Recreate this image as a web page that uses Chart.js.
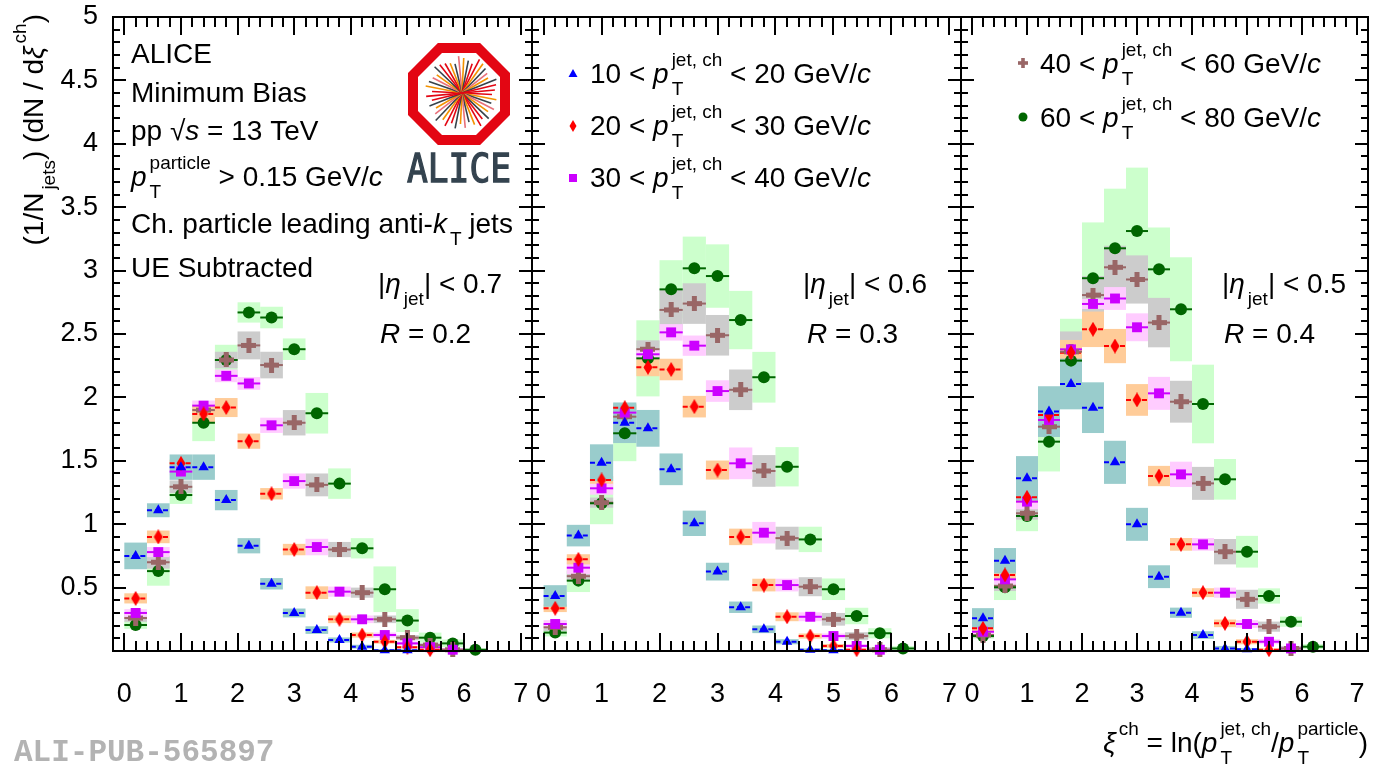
<!DOCTYPE html>
<html>
<head>
<meta charset="utf-8">
<title>xi ch distributions</title>
<script src="https://cdn.jsdelivr.net/npm/chart.js@4.4.1/dist/chart.umd.min.js"></script>
<style>
  body { margin: 0; background: #fff; }
  #wrap { position: relative; width: 1376px; height: 766px; overflow: hidden; }
  #wrap canvas { position: absolute; top: 0; }
</style>
</head>
<body>
<div id="wrap">
  <canvas id="panel1" width="534" height="766" style="left:0px"></canvas>
  <canvas id="panel2" width="433" height="766" style="left:530px"></canvas>
  <canvas id="panel3" width="417" height="766" style="left:959px"></canvas>
</div>
<script>
// bin centres in xi, shared ticks
const xiBins = [0.2, 0.6, 1.0, 1.4, 1.8, 2.2, 2.6, 3.0, 3.4, 3.8, 4.2, 4.6, 5.0, 5.4, 5.8, 6.2];
const binHalfWidth = 0.2;
const xTicks = [0, 1, 2, 3, 4, 5, 6, 7];
const yTicks = [0.5, 1, 1.5, 2, 2.5, 3, 3.5, 4, 4.5, 5];
const ptLow = [10, 20, 30, 40, 60];
const ptHigh = [20, 30, 40, 60, 80];
const jetR = ['0.2', '0.3', '0.4'];
const etaCut = ['0.7', '0.6', '0.5'];

// R = 0.2
const r02_pt10 = [0.75, 1.11, 1.45, 1.45, 1.19, 0.83, 0.53, 0.30, 0.165, 0.087, 0.034, 0.005, 0.005, null, null, null];
const r02_pt10_sys = [0.105, 0.055, 0.10, 0.10, 0.08, 0.06, 0.045, 0.035, 0.03, 0.02, 0.015, 0.01, 0.01, null, null, null];
const r02_pt20 = [0.415, 0.90, 1.48, 1.87, 1.92, 1.655, 1.24, 0.80, 0.46, 0.25, 0.126, 0.073, 0.03, 0.01, null, null];
const r02_pt20_sys = [0.04, 0.05, 0.03, 0.07, 0.075, 0.06, 0.045, 0.045, 0.05, 0.03, 0.02, 0.015, 0.01, 0.01, null, null];
const r02_pt30 = [0.30, 0.78, 1.415, 1.935, 2.17, 2.11, 1.78, 1.34, 0.82, 0.468, 0.25, 0.126, 0.06, 0.03, 0.01, null];
const r02_pt30_sys = [0.03, 0.04, 0.03, 0.04, 0.05, 0.05, 0.06, 0.06, 0.065, 0.04, 0.03, 0.02, 0.015, 0.01, 0.01, null];
const r02_pt40 = [0.26, 0.70, 1.295, 1.90, 2.295, 2.41, 2.255, 1.80, 1.31, 0.80, 0.46, 0.25, 0.105, 0.047, 0.01, null];
const r02_pt40_sys = [0.03, 0.05, 0.05, 0.05, 0.065, 0.11, 0.105, 0.10, 0.09, 0.06, 0.04, 0.03, 0.02, 0.015, 0.01, null];
const r02_pt60 = [0.205, 0.63, 1.23, 1.80, 2.295, 2.67, 2.63, 2.38, 1.875, 1.32, 0.81, 0.487, 0.24, 0.105, 0.06, 0.01];
const r02_pt60_sys = [0.03, 0.115, 0.07, 0.145, 0.12, 0.08, 0.085, 0.085, 0.16, 0.12, 0.08, 0.18, 0.09, 0.04, 0.03, 0.01];

// R = 0.3
const r03_pt10 = [0.434, 0.91, 1.485, 1.80, 1.756, 1.433, 1.007, 0.626, 0.345, 0.171, 0.073, 0.01, 0.005, null, null, null];
const r03_pt10_sys = [0.085, 0.085, 0.145, 0.16, 0.145, 0.125, 0.10, 0.07, 0.045, 0.03, 0.02, 0.01, 0.01, null, null, null];
const r03_pt20 = [0.337, 0.723, 1.349, 1.919, 2.237, 2.22, 1.927, 1.427, 0.90, 0.52, 0.27, 0.118, 0.04, 0.01, null, null];
const r03_pt20_sys = [0.03, 0.04, 0.03, 0.03, 0.07, 0.085, 0.085, 0.075, 0.065, 0.05, 0.035, 0.02, 0.015, 0.01, null, null];
const r03_pt30 = [0.213, 0.657, 1.283, 1.88, 2.34, 2.513, 2.408, 2.05, 1.48, 0.933, 0.52, 0.27, 0.118, 0.04, 0.01, null];
const r03_pt30_sys = [0.03, 0.05, 0.05, 0.04, 0.04, 0.065, 0.08, 0.085, 0.125, 0.085, 0.05, 0.035, 0.02, 0.015, 0.01, null];
const r03_pt40 = [0.187, 0.59, 1.17, 1.848, 2.38, 2.69, 2.74, 2.49, 2.06, 1.42, 0.89, 0.507, 0.25, 0.118, 0.01, null];
const r03_pt40_sys = [0.03, 0.04, 0.04, 0.05, 0.07, 0.16, 0.16, 0.16, 0.16, 0.125, 0.09, 0.075, 0.05, 0.03, 0.02, null];
const r03_pt60 = [0.145, 0.555, 1.165, 1.717, 2.308, 2.852, 3.018, 2.957, 2.61, 2.159, 1.453, 0.88, 0.487, 0.276, 0.14, 0.02];
const r03_pt60_sys = [0.03, 0.09, 0.165, 0.22, 0.30, 0.23, 0.25, 0.25, 0.23, 0.20, 0.155, 0.10, 0.085, 0.065, 0.04, 0.02];

// R = 0.4
const r04_pt10 = [0.258, 0.712, 1.362, 1.888, 2.106, 1.919, 1.488, 0.999, 0.586, 0.302, 0.126, 0.02, 0.013, null, null, null];
const r04_pt10_sys = [0.08, 0.10, 0.175, 0.20, 0.20, 0.20, 0.17, 0.13, 0.09, 0.04, 0.03, 0.02, 0.01, null, null, null];
const r04_pt20 = [0.179, 0.60, 1.212, 1.861, 2.353, 2.537, 2.405, 1.98, 1.38, 0.841, 0.46, 0.218, 0.073, 0.01, null, null];
const r04_pt20_sys = [0.03, 0.04, 0.04, 0.04, 0.10, 0.14, 0.135, 0.125, 0.08, 0.05, 0.035, 0.03, 0.02, 0.01, null, null];
const r04_pt30 = [0.152, 0.565, 1.178, 1.822, 2.379, 2.737, 2.78, 2.553, 2.032, 1.393, 0.841, 0.46, 0.213, 0.073, 0.02, null];
const r04_pt30_sys = [0.02, 0.04, 0.06, 0.05, 0.04, 0.04, 0.09, 0.11, 0.13, 0.10, 0.05, 0.04, 0.03, 0.02, 0.01, null];
const r04_pt40 = [0.126, 0.513, 1.086, 1.769, 2.36, 2.807, 3.026, 2.93, 2.59, 1.966, 1.322, 0.783, 0.408, 0.192, 0.02, null];
const r04_pt40_sys = [0.02, 0.04, 0.05, 0.05, 0.16, 0.15, 0.17, 0.19, 0.195, 0.165, 0.13, 0.10, 0.075, 0.04, 0.02, null];
const r04_pt60 = [0.118, 0.502, 1.065, 1.651, 2.29, 2.94, 3.176, 3.312, 3.01, 2.695, 1.948, 1.354, 0.783, 0.434, 0.231, 0.034];
const r04_pt60_sys = [0.02, 0.10, 0.12, 0.235, 0.33, 0.44, 0.47, 0.50, 0.33, 0.41, 0.31, 0.16, 0.125, 0.06, 0.04, 0.02];

const panelValues = [
  [r02_pt10, r02_pt20, r02_pt30, r02_pt40, r02_pt60],
  [r03_pt10, r03_pt20, r03_pt30, r03_pt40, r03_pt60],
  [r04_pt10, r04_pt20, r04_pt30, r04_pt40, r04_pt60]
];
const panelSys = [
  [r02_pt10_sys, r02_pt20_sys, r02_pt30_sys, r02_pt40_sys, r02_pt60_sys],
  [r03_pt10_sys, r03_pt20_sys, r03_pt30_sys, r03_pt40_sys, r03_pt60_sys],
  [r04_pt10_sys, r04_pt20_sys, r04_pt30_sys, r04_pt40_sys, r04_pt60_sys]
];

const markerColors = ['#0000ff', '#ff0000', '#cc00ff', '#996666', '#006600'];
const boxColors = ['#99cccc', '#ffcc99', '#ffccff', '#cccccc', '#ccffcc'];
const dashedBars = [true, true, false, false, false];

const FONT = '"Liberation Sans", Arial, Helvetica, sans-serif';
function fontStr(size, italic) { return (italic ? 'italic ' : '') + size + 'px ' + FONT; }

// marker images for the shapes chart.js has no filled version of
function diamondImg(color) {
  const c = document.createElement('canvas');
  c.width = 10; c.height = 15;
  const g = c.getContext('2d');
  g.fillStyle = color;
  g.beginPath(); g.moveTo(5, 0); g.lineTo(9.5, 7.5); g.lineTo(5, 15); g.lineTo(0.5, 7.5); g.closePath(); g.fill();
  return c;
}
function crossImg(color) {
  const c = document.createElement('canvas');
  c.width = 15; c.height = 15;
  const g = c.getContext('2d');
  g.fillStyle = color;
  g.fillRect(5, 0, 5, 15); g.fillRect(0, 5, 15, 5);
  return c;
}
const pointStyles = ['triangle', diamondImg(markerColors[1]), 'rect', crossImg(markerColors[3]), 'circle'];
const pointRadii = [6, 7, 7, 7, 6];

// rich text: N normal, I italic, SUP/SUB small, ST stacked sup+sub
const N = t => ({t: t});
const I = t => ({t: t, it: true});
const SUP = t => ({sup: t});
const SUB = t => ({sub: t});
const ST = (sup, sub) => ({sup: sup, sub: sub});

function drawRich(ctx, parts, x, y, size, align) {
  const small = Math.round(size * 0.68);
  const items = [];
  let w = 0;
  parts.forEach(function (p) {
    if (p.t !== undefined) {
      const f = fontStr(size, p.it);
      ctx.font = f;
      items.push({text: p.t, font: f, dx: w, dy: 0});
      w += ctx.measureText(p.t).width;
    } else {
      const f = fontStr(small, false);
      ctx.font = f;
      const gap = 3;
      let ww = 0;
      if (p.sup !== undefined) {
        items.push({text: p.sup, font: f, dx: w + gap, dy: -0.62 * size});
        ww = Math.max(ww, ctx.measureText(p.sup).width);
      }
      if (p.sub !== undefined) {
        items.push({text: p.sub, font: f, dx: w + gap, dy: 0.42 * size});
        ww = Math.max(ww, ctx.measureText(p.sub).width);
      }
      w += ww + gap;
    }
  });
  const x0 = align === 'right' ? x - w : x;
  ctx.save();
  ctx.fillStyle = '#000';
  ctx.textAlign = 'left';
  ctx.textBaseline = 'alphabetic';
  items.forEach(function (it) { ctx.font = it.font; ctx.fillText(it.text, x0 + it.dx, y + it.dy); });
  ctx.restore();
}

function drawMarker(ctx, s, x, y) {
  ctx.save();
  ctx.fillStyle = markerColors[s];
  ctx.beginPath();
  if (s === 0) { ctx.moveTo(x, y - 5); ctx.lineTo(x + 4.5, y + 3); ctx.lineTo(x - 4.5, y + 3); ctx.closePath(); ctx.fill(); }
  if (s === 1) { ctx.moveTo(x, y - 6); ctx.lineTo(x + 3.5, y); ctx.lineTo(x, y + 6); ctx.lineTo(x - 3.5, y); ctx.closePath(); ctx.fill(); }
  if (s === 2) { ctx.fillRect(x - 4, y - 4, 8, 8); }
  if (s === 3) { ctx.fillRect(x - 1.8, y - 5, 3.6, 10); ctx.fillRect(x - 5, y - 1.8, 10, 3.6); }
  if (s === 4) { ctx.arc(x, y, 4.5, 0, Math.PI * 2); ctx.fill(); }
  ctx.restore();
}

function drawLogo(ctx, cx, cy) {
  ctx.save();
  function oct(ap) {
    const r = ap / Math.cos(Math.PI / 8);
    ctx.beginPath();
    for (let k = 0; k < 8; k++) {
      const a = Math.PI / 8 + k * Math.PI / 4;
      ctx.lineTo(cx + r * Math.cos(a), cy + r * Math.sin(a));
    }
    ctx.closePath();
  }
  oct(51); ctx.fillStyle = '#e30613'; ctx.fill();
  oct(41); ctx.fillStyle = '#ffffff'; ctx.fill();
  const cols = ['#e30613', '#f39200', '#37424a', '#e8707a', '#f39200', '#37424a', '#e30613'];
  const ox = cx + 3, oy = cy - 1;
  ctx.lineWidth = 1.6;
  for (let k = 0; k < 22; k++) {
    const a = k * Math.PI / 22 + 0.05;
    const l1 = 30 + (k * 7) % 9, l2 = 30 + (k * 5) % 9;
    ctx.strokeStyle = cols[k % cols.length];
    ctx.beginPath();
    ctx.moveTo(ox - l1 * Math.cos(a), oy - l1 * Math.sin(a));
    ctx.lineTo(ox + l2 * Math.cos(a), oy + l2 * Math.sin(a));
    ctx.stroke();
  }
  ctx.font = '36px "DejaVu Sans Mono", monospace';
  ctx.fillStyle = '#34434f';
  ctx.strokeStyle = '#34434f';
  ctx.lineWidth = 1.2;
  const tw = ctx.measureText('ALICE').width;
  ctx.translate(cx - 52, cy + 88);
  ctx.scale(104 / tw, 1.08);
  ctx.textBaseline = 'alphabetic';
  ctx.fillText('ALICE', 0, 0);
  ctx.strokeText('ALICE', 0, 0);
  ctx.restore();
}

function drawFrame(chart) {
  const ctx = chart.ctx, a = chart.chartArea, x = chart.scales.x, y = chart.scales.y;
  ctx.save();
  ctx.strokeStyle = '#000';
  ctx.lineWidth = 2;
  ctx.strokeRect(a.left, a.top, a.right - a.left, a.bottom - a.top);
  ctx.beginPath();
  for (let k = 0; k <= 35; k++) {
    const px = Math.round(x.getPixelForValue(k * 0.2));
    const len = k % 5 === 0 ? 18 : 10;
    ctx.moveTo(px, a.bottom); ctx.lineTo(px, a.bottom - len);
    ctx.moveTo(px, a.top); ctx.lineTo(px, a.top + len);
  }
  for (let k = 1; k < 50; k++) {
    const py = Math.round(y.getPixelForValue(k * 0.1));
    const len = k % 5 === 0 ? 13 : 7;
    ctx.moveTo(a.left, py); ctx.lineTo(a.left + len, py);
    ctx.moveTo(a.right, py); ctx.lineTo(a.right - len, py);
  }
  ctx.stroke();
  ctx.restore();
}

function drawUncertainties(chart) {
  const ctx = chart.ctx, a = chart.chartArea, x = chart.scales.x, y = chart.scales.y;
  const sets = chart.data.datasets;
  ctx.save();
  ctx.beginPath();
  ctx.rect(a.left, a.top, a.right - a.left, a.bottom - a.top);
  ctx.clip();
  // systematic boxes, highest pt first
  for (let s = sets.length - 1; s >= 0; s--) {
    ctx.fillStyle = boxColors[s];
    sets[s].data.forEach(function (d) {
      const x0 = x.getPixelForValue(d.x - binHalfWidth), x1 = x.getPixelForValue(d.x + binHalfWidth);
      const y0 = y.getPixelForValue(d.y + d.sys), y1 = y.getPixelForValue(d.y - d.sys);
      ctx.fillRect(x0, y0, x1 - x0, y1 - y0);
    });
  }
  ctx.restore();
  ctx.save();
  ctx.lineWidth = 2;
  sets.forEach(function (ds, s) {
    ctx.strokeStyle = markerColors[s];
    ctx.setLineDash(dashedBars[s] ? [5, 3] : []);
    ds.data.forEach(function (d) {
      const py = y.getPixelForValue(d.y);
      ctx.beginPath();
      ctx.moveTo(x.getPixelForValue(d.x - binHalfWidth), py);
      ctx.lineTo(x.getPixelForValue(d.x + binHalfWidth), py);
      ctx.stroke();
    });
  });
  ctx.restore();
}

function ptLabel(s) {
  return [N(ptLow[s] + ' < '), I('p'), ST('jet, ch', 'T'), N(' < ' + ptHigh[s] + ' GeV/'), I('c')];
}

const etaPos = [[378, 380], [803, 807], [1222, 1224]];

// text drawn in page coordinates
const decorations = [
  function (ctx) {
    const L = 131;
    drawRich(ctx, [N('ALICE')], L, 63, 28);
    drawRich(ctx, [N('Minimum Bias')], L, 102, 28);
    drawRich(ctx, [N('pp '), N('\u221A'), I('s'), N(' = 13 TeV')], L, 140, 28);
    drawRich(ctx, [I('p'), ST('particle', 'T'), N(' > 0.15 GeV/'), I('c')], L, 186, 28);
    drawRich(ctx, [N('Ch. particle leading anti-'), I('k'), SUB('T'), N(' jets')], L, 233, 28);
    drawRich(ctx, [N('UE Subtracted')], L, 277, 28);
    drawLogo(ctx, 459, 94);
    ctx.save();
    ctx.translate(43, 14);
    ctx.rotate(-Math.PI / 2);
    drawRich(ctx, [N('(1/N'), SUB('jets'), N(') (dN / d'), I('\u03BE'), SUP('ch'), N(')')], 0, 0, 28, 'right');
    ctx.restore();
    ctx.save();
    ctx.font = 'bold 31px "Liberation Mono", "Courier New", monospace';
    ctx.fillStyle = '#b3b3b3';
    ctx.fillText('ALI-PUB-565897', 14, 761);
    ctx.restore();
  },
  function (ctx) {
    const base = [83, 135, 187];
    for (let s = 0; s < 3; s++) {
      drawMarker(ctx, s, 573, base[s] - 9);
      drawRich(ctx, ptLabel(s), 590, base[s], 28);
    }
  },
  function (ctx) {
    const base = [73, 127];
    for (let s = 3; s < 5; s++) {
      drawMarker(ctx, s, 1023, base[s - 3] - 10);
      drawRich(ctx, ptLabel(s), 1040, base[s - 3], 28);
    }
    drawRich(ctx, [I('\u03BE'), SUP('ch'), N(' = ln('), I('p'), ST('jet, ch', 'T'), N('/'), I('p'), ST('particle', 'T'), N(')')], 1368, 752, 28, 'right');
  }
];

function noLabelPadding(sc) {
  sc.paddingLeft = 0; sc.paddingRight = 0; sc.paddingTop = 0; sc.paddingBottom = 0;
}

function makePanel(canvasId, p, left, pad) {
  const showY = p === 0;
  const datasets = panelValues[p].map(function (vals, s) {
    const sys = panelSys[p][s];
    const pts = [];
    xiBins.forEach(function (xv, i) {
      if (vals[i] !== null) pts.push({x: xv, y: vals[i], sys: sys[i]});
    });
    return {
      label: ptLow[s] + ' < pT < ' + ptHigh[s],
      data: pts,
      pointStyle: pointStyles[s],
      pointRadius: pointRadii[s],
      pointHoverRadius: pointRadii[s],
      pointBackgroundColor: markerColors[s],
      pointBorderColor: markerColors[s],
      pointBorderWidth: 0,
      clip: false
    };
  });

  return new Chart(document.getElementById(canvasId), {
    type: 'scatter',
    data: {datasets: datasets},
    options: {
      responsive: false,
      animation: false,
      devicePixelRatio: 1,
      events: [],
      layout: {padding: pad, autoPadding: false},
      plugins: {legend: {display: false}, tooltip: {enabled: false}},
      scales: {
        x: {
          type: 'linear', min: -0.2, max: 7.2,
          afterBuildTicks: function (sc) { sc.ticks = xTicks.map(v => ({value: v})); },
          afterFit: function (sc) { sc.height = 115; noLabelPadding(sc); },
          grid: {display: false},
          border: {display: false},
          ticks: {color: '#000', padding: 19, maxRotation: 0, autoSkip: false,
                  font: {family: FONT, size: 27}, callback: v => String(v)}
        },
        y: {
          type: 'linear', min: 0, max: 5, display: showY,
          afterBuildTicks: function (sc) { sc.ticks = yTicks.map(v => ({value: v})); },
          afterFit: function (sc) { if (showY) sc.width = 113; noLabelPadding(sc); },
          grid: {display: false},
          border: {display: false},
          ticks: {color: '#000', padding: 7, autoSkip: false,
                  font: {family: FONT, size: 27}, callback: v => String(v)}
        }
      }
    },
    plugins: [{
      id: 'rootStyle',
      beforeDatasetsDraw: function (chart) { drawUncertainties(chart); },
      afterDraw: function (chart) {
        drawFrame(chart);
        const ctx = chart.ctx;
        ctx.save();
        ctx.translate(-left, 0);
        const ep = etaPos[p];
        drawRich(ctx, [N('|'), I('\u03B7'), SUB('jet'), N('| < ' + etaCut[p])], ep[0], 293, 28);
        drawRich(ctx, [I('R'), N(' = ' + jetR[p])], ep[1], 343, 28);
        decorations[p](ctx);
        ctx.restore();
      }
    }]
  });
}

makePanel('panel1', 0, 0, {left: 0, right: 2, top: 17, bottom: 0});
makePanel('panel2', 1, 530, {left: 2, right: 2, top: 17, bottom: 0});
makePanel('panel3', 2, 959, {left: 2, right: 8, top: 17, bottom: 0});
</script>
</body>
</html>
